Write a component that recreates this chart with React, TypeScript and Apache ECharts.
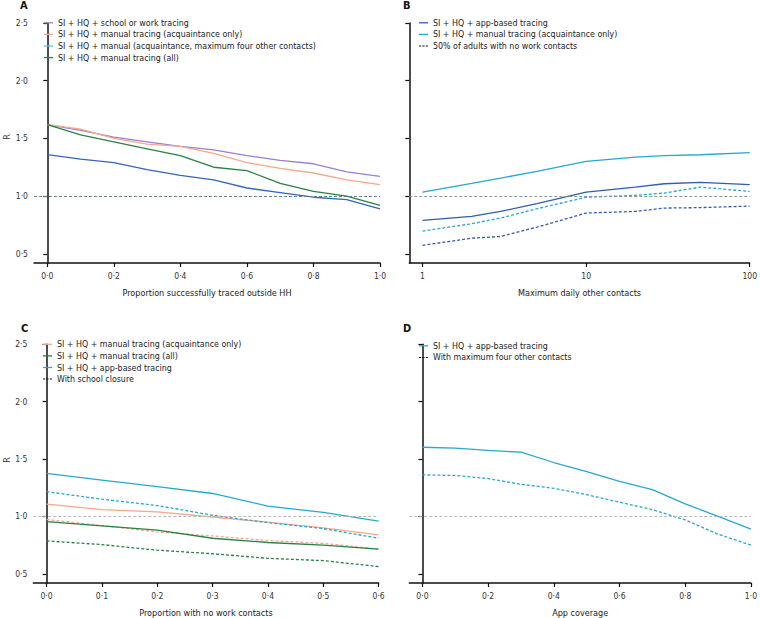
import React, { useEffect, useRef } from "react";
import * as echarts from "echarts";

// Panel A
const aX = [0, 0.1, 0.2, 0.3, 0.4, 0.5, 0.6, 0.7, 0.8, 0.9, 1.0];
const aSchoolWork = [1.62, 1.57, 1.51, 1.47, 1.43, 1.40, 1.35, 1.31, 1.28, 1.21, 1.17];
const aAcqOnly = [1.62, 1.58, 1.50, 1.45, 1.43, 1.37, 1.29, 1.24, 1.20, 1.14, 1.10];
const aAcqMax4 = [1.36, 1.32, 1.29, 1.23, 1.18, 1.14, 1.07, 1.03, 0.99, 0.97, 0.89];
const aAll = [1.62, 1.53, 1.47, 1.41, 1.35, 1.25, 1.22, 1.11, 1.04, 1.00, 0.92];

// Panel B
const bX = [1, 2, 3, 5, 10, 20, 30, 50, 100];
const bApp = [0.79, 0.824, 0.867, 0.934, 1.035, 1.078, 1.107, 1.118, 1.10];
const bAcq = [1.035, 1.11, 1.155, 1.215, 1.30, 1.337, 1.35, 1.358, 1.376];
const bAppNoWork = [0.573, 0.635, 0.65, 0.73, 0.853, 0.867, 0.896, 0.90, 0.913];
const bAcqNoWork = [0.697, 0.76, 0.81, 0.89, 0.99, 1.006, 1.026, 1.078, 1.04];

// Panel C
const cX = [0, 0.1, 0.2, 0.3, 0.4, 0.5, 0.6];
const cAcq = [1.107, 1.06, 1.04, 0.995, 0.95, 0.90, 0.84];
const cAcqClosure = [0.974, 0.92, 0.865, 0.83, 0.79, 0.765, 0.715];
const cAll = [0.954, 0.917, 0.88, 0.81, 0.773, 0.75, 0.715];
const cAllClosure = [0.787, 0.755, 0.706, 0.675, 0.635, 0.615, 0.563];
const cApp = [1.375, 1.317, 1.26, 1.20, 1.09, 1.035, 0.96];
const cAppClosure = [1.216, 1.15, 1.095, 1.01, 0.946, 0.894, 0.81];

// Panel D
const dX = [0, 0.1, 0.2, 0.3, 0.4, 0.5, 0.6, 0.7, 0.8, 0.9, 1.0];
const dApp = [1.603, 1.595, 1.575, 1.56, 1.47, 1.39, 1.305, 1.233, 1.11, 1.0, 0.89];
const dAppMax4 = [1.362, 1.357, 1.33, 1.28, 1.245, 1.19, 1.124, 1.06, 0.97, 0.845, 0.75];

const yTicks = [0.5, 1.0, 1.5, 2.0, 2.5];
const aTicks = [0, 0.2, 0.4, 0.6, 0.8, 1.0];
const bTicks = [1, 10, 100];
const cTicks = [0, 0.1, 0.2, 0.3, 0.4, 0.5, 0.6];
const dTicks = [0, 0.2, 0.4, 0.6, 0.8, 1.0];

const FONT = "'Liberation Sans Narrow', 'DejaVu Sans Condensed', 'Roboto Condensed', 'Liberation Sans', sans-serif";
const PURPLE = "#9a7fd1";
const SALMON = "#f6a88a";
const CYAN_LEG = "#5cc6df";
const GREEN = "#2a8144";
const BLUE = "#3566b8";
const DBLUE = "#2d5fae";
const CYAN = "#27a8cf";

const DASH_ICON = "path://M0,0h2.2v1h-2.2z M3.4,0h2.2v1h-2.2z M6.8,0h2.2v1h-2.2z";

const fmt = (v: number) => v.toFixed(1).replace(".", "·");
const zip = (xs: number[], ys: number[]) => xs.map((x, i) => [x, ys[i]]);

export default function App() {
  const ref = useRef<HTMLDivElement>(null);
  useEffect(() => {
    if (!ref.current) return;
    const chart = echarts.init(ref.current, null, { renderer: "svg" });

    const axisLine = { show: true, lineStyle: { color: "#111", width: 1.5 } };
    const axisTick = (vals: number[]) => ({
      show: true,
      length: 4,
      lineStyle: { color: "#111", width: 1.2 },
      customValues: vals,
    });
    const xLabel = (vals: number[], f: (v: number) => string) => ({
      show: true,
      margin: 8,
      fontSize: 8.5,
      color: "#333",
      fontFamily: FONT,
      customValues: vals,
      formatter: f,
    });
    const yAxis = (gi: number, labels: boolean) => ({
      type: "value",
      gridIndex: gi,
      min: 0.42,
      max: 2.5,
      splitLine: { show: false },
      axisLine,
      axisTick: axisTick(yTicks),
      axisLabel: {
        show: labels,
        margin: 6,
        fontSize: 8.5,
        color: "#333",
        fontFamily: FONT,
        customValues: yTicks,
        formatter: (v: number) => fmt(v),
      },
    });
    const xName = (name: string) => ({
      name,
      nameLocation: "middle",
      nameGap: 25,
      nameTextStyle: { fontSize: 9, color: "#222", fontFamily: FONT },
    });

    const line = (
      name: string,
      xi: number,
      data: number[][],
      color: string,
      dashed = false,
      extra: any = {}
    ) => ({
      type: "line",
      name,
      xAxisIndex: xi,
      yAxisIndex: xi,
      data,
      symbol: "none",
      smooth: false,
      lineStyle: { color, width: 1.3, type: dashed ? [3, 2] : "solid" },
      itemStyle: { color },
      z: 3,
      ...extra,
    });
    const refLine = (color: string) => ({
      silent: true,
      symbol: "none",
      label: { show: false },
      lineStyle: { color, width: 1, type: [3, 2] },
      data: [{ yAxis: 1 }],
    });

    const legendBase = {
      orient: "vertical",
      itemWidth: 9,
      itemHeight: 1.3,
      itemGap: 2,
      padding: 0,
      selectedMode: false,
      textStyle: { fontSize: 8.8, lineHeight: 9.6, color: "#222", fontFamily: FONT },
    };
    const li = (name: string, color: string, dashed = false) => ({
      name,
      icon: dashed ? DASH_ICON : "rect",
      itemStyle: { color, borderWidth: 0 },
    });

    const option: any = {
      animation: false,
      backgroundColor: "#fff",
      textStyle: { fontFamily: FONT },
      grid: [
        { left: 34, top: 23, width: 346, height: 240 },
        { left: 409.3, top: 23, width: 345, height: 240 },
        { left: 33.3, top: 344.3, width: 345.3, height: 240.7 },
        { left: 409.3, top: 344.3, width: 344.6, height: 240.7 },
      ],
      xAxis: [
        {
          type: "value", gridIndex: 0, min: -0.04, max: 1.0,
          splitLine: { show: false }, axisLine, axisTick: axisTick(aTicks),
          axisLabel: xLabel(aTicks, fmt), ...xName("Proportion successfully traced outside HH"),
        },
        {
          type: "log", gridIndex: 1, min: 0.83, max: 100, logBase: 10,
          splitLine: { show: false }, axisLine, axisTick: axisTick(bTicks),
          axisLabel: xLabel(bTicks, (v: number) => String(Math.round(v))),
          ...xName("Maximum daily other contacts"),
        },
        {
          type: "value", gridIndex: 2, min: -0.024, max: 0.6,
          splitLine: { show: false }, axisLine, axisTick: axisTick(cTicks),
          axisLabel: xLabel(cTicks, fmt), ...xName("Proportion with no work contacts"),
        },
        {
          type: "value", gridIndex: 3, min: -0.04, max: 1.0,
          splitLine: { show: false }, axisLine, axisTick: axisTick(dTicks),
          axisLabel: xLabel(dTicks, fmt), ...xName("App coverage"),
        },
      ],
      yAxis: [yAxis(0, true), yAxis(1, false), yAxis(2, true), yAxis(3, false)],
      legend: [
        {
          ...legendBase, left: 44, top: 18,
          data: [
            li("SI + HQ + school or work tracing", PURPLE),
            li("SI + HQ + manual tracing (acquaintance only)", SALMON),
            li("SI + HQ + manual (acquaintance, maximum four other contacts)", CYAN_LEG),
            li("SI + HQ + manual tracing (all)", GREEN),
          ],
        },
        {
          ...legendBase, left: 419, top: 18,
          data: [
            li("SI + HQ + app-based tracing", DBLUE),
            li("SI + HQ + manual tracing (acquaintance only)", CYAN),
            li("50% of adults with no work contacts", "#111", true),
          ],
        },
        {
          ...legendBase, left: 43, top: 339.5,
          data: [
            li("SI + HQ + manual tracing (acquaintance only)", SALMON),
            li("SI + HQ + manual tracing (all)", GREEN),
            li("SI + HQ + app-based tracing", CYAN),
            li("With school closure", "#111", true),
          ],
        },
        {
          ...legendBase, left: 419, top: 341,
          data: [
            li("SI + HQ + app-based tracing", CYAN),
            li("With maximum four other contacts", "#111", true),
          ],
        },
      ],
      graphic: [
        { type: "text", left: 20, top: 0, style: { text: "A", fontSize: 11, fontWeight: "bold", fill: "#111", fontFamily: FONT } },
        { type: "text", left: 403, top: 0, style: { text: "B", fontSize: 11, fontWeight: "bold", fill: "#111", fontFamily: FONT } },
        { type: "text", left: 21, top: 323, style: { text: "C", fontSize: 11, fontWeight: "bold", fill: "#111", fontFamily: FONT } },
        { type: "text", left: 403, top: 323, style: { text: "D", fontSize: 11, fontWeight: "bold", fill: "#111", fontFamily: FONT } },
        { type: "text", x: 7, y: 137, rotation: Math.PI / 2, style: { text: "R", fontSize: 9, fill: "#333", align: "center", verticalAlign: "middle", fontFamily: FONT } },
        { type: "text", x: 7, y: 460, rotation: Math.PI / 2, style: { text: "R", fontSize: 9, fill: "#333", align: "center", verticalAlign: "middle", fontFamily: FONT } },
      ],
      series: [
        // A
        line("SI + HQ + school or work tracing", 0, zip(aX, aSchoolWork), PURPLE, false, { markLine: refLine("#5f8590") }),
        line("SI + HQ + manual tracing (acquaintance only)", 0, zip(aX, aAcqOnly), SALMON),
        line("SI + HQ + manual (acquaintance, maximum four other contacts)", 0, zip(aX, aAcqMax4), BLUE),
        line("SI + HQ + manual tracing (all)", 0, zip(aX, aAll), GREEN),
        // B
        line("SI + HQ + app-based tracing", 1, zip(bX, bApp), DBLUE, false, { markLine: refLine("#8a9898") }),
        line("SI + HQ + manual tracing (acquaintance only)", 1, zip(bX, bAcq), CYAN),
        line("B app no work", 1, zip(bX, bAppNoWork), DBLUE, true),
        line("B acquaintance no work", 1, zip(bX, bAcqNoWork), CYAN, true),
        line("50% of adults with no work contacts", 1, [], "#111", true),
        // C
        line("SI + HQ + manual tracing (acquaintance only)", 2, zip(cX, cAcq), SALMON, false, { markLine: refLine("#b8b8b8") }),
        line("C acquaintance closure", 2, zip(cX, cAcqClosure), SALMON, true),
        line("SI + HQ + manual tracing (all)", 2, zip(cX, cAll), GREEN),
        line("C all closure", 2, zip(cX, cAllClosure), GREEN, true),
        line("SI + HQ + app-based tracing", 2, zip(cX, cApp), CYAN),
        line("C app closure", 2, zip(cX, cAppClosure), CYAN, true),
        line("With school closure", 2, [], "#111", true),
        // D
        line("SI + HQ + app-based tracing", 3, zip(dX, dApp), CYAN, false, { markLine: refLine("#b8b8b8") }),
        line("D app max four", 3, zip(dX, dAppMax4), CYAN, true),
        line("With maximum four other contacts", 3, [], "#111", true),
      ],
    };

    chart.setOption(option);
    return () => chart.dispose();
  }, []);

  return (
    <div
      ref={ref}
      style={{ position: "fixed", left: 0, top: 0, width: 760, height: 618, background: "#fff" }}
    />
  );
}
